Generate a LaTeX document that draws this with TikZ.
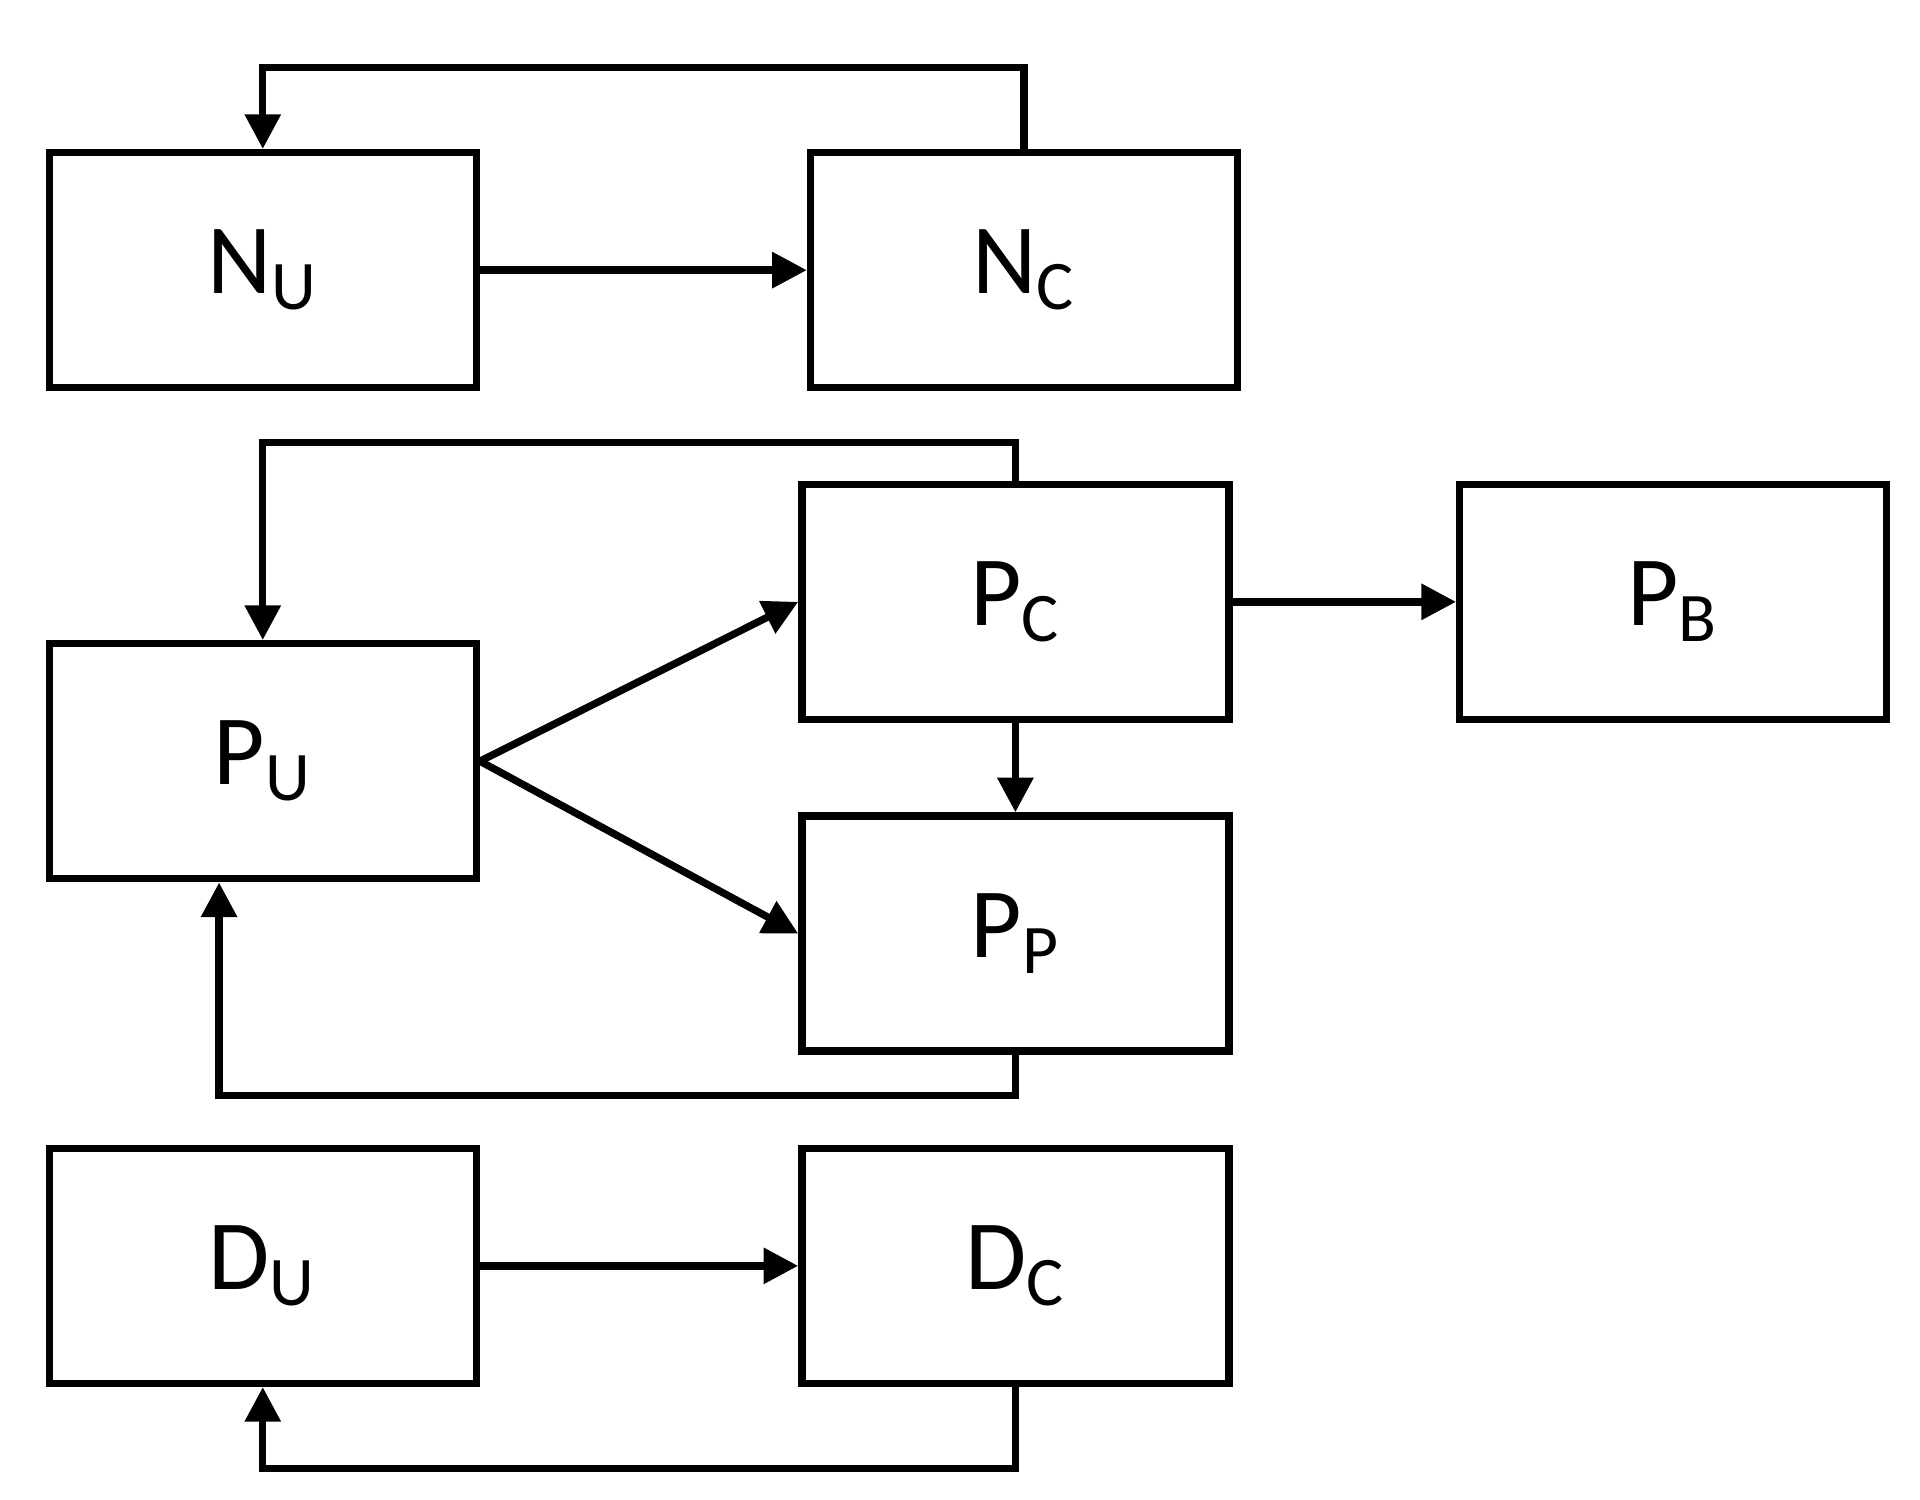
\documentclass[tikz,border=0pt]{standalone}
\usepackage{fontspec}
\setmainfont{Carlito}
\usetikzlibrary{arrows.meta, positioning}

\begin{document}
\begin{tikzpicture}[
    % Node styles
    statebox/.style={
        rectangle,
        draw=black,
        line width=1.7pt,
        fill=white,
        minimum width=3.47cm,
        minimum height=1.91cm,
        font=\fontsize{23}{27}\selectfont
    },
    arrow/.style={
        -{Triangle[length=8pt, width=8pt]},
        line width=1.7pt,
        black
    }
]
\useasboundingbox (0,0) rectangle (15.6,12.18);

% === Boxes ===
\node[statebox] (nu) at (2.135, 9.985) {N\textsubscript{U}};
\node[statebox] (nc) at (8.32, 9.985) {N\textsubscript{C}};
\node[statebox] (pc) at (8.25, 7.29) {P\textsubscript{C}};
\node[statebox] (pb) at (13.595, 7.29) {P\textsubscript{B}};
\node[statebox] (pu) at (2.135, 5.995) {P\textsubscript{U}};
\node[statebox] (pp) at (8.25, 4.595) {P\textsubscript{P}};
\node[statebox] (du) at (2.135, 1.895) {D\textsubscript{U}};
\node[statebox] (dc) at (8.25, 1.895) {D\textsubscript{C}};

% === Arrows ===
\draw[arrow] (nu.east) -- (nc.west);
\draw[arrow] (nc.north) -- ++(0,0.66) -| (nu.north);

\draw[arrow] (pu.east) -- (pc.west);
\draw[arrow] (pu.east) -- (pp.west);
\draw[arrow] (pc.east) -- (pb.west);
\draw[arrow] (pc.south) -- (pp.north);
\draw[arrow] (pc.north) -- ++(0,0.31) -| (pu.north);
\draw[arrow] (pp.south) -- ++(0,-0.33) -| ([xshift=-0.355cm]pu.south);

\draw[arrow] (du.east) -- (dc.west);
\draw[arrow] (dc.south) -- ++(0,-0.66) -| (du.south);

\end{tikzpicture}
\end{document}
